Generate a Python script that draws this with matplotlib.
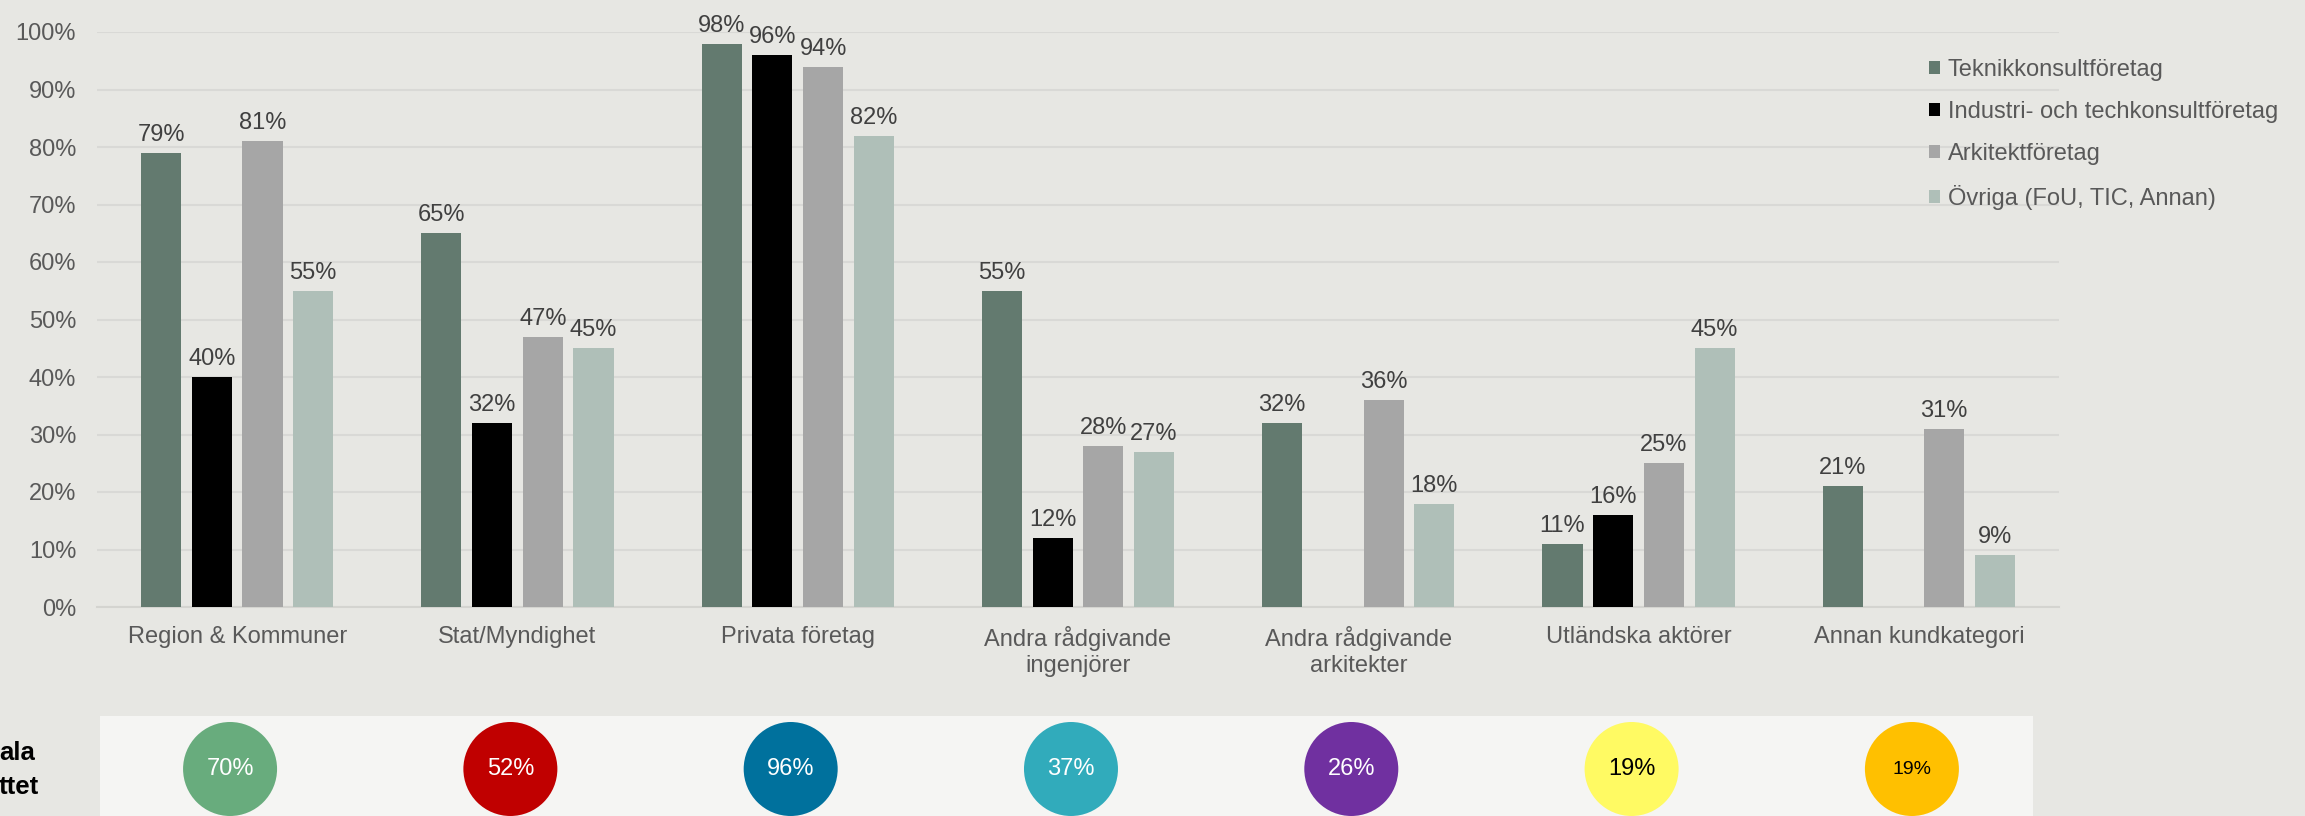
import matplotlib.pyplot as plt
import numpy as np
from matplotlib.patches import Patch

plt.rcParams['font.family'] = ['Liberation Sans', 'DejaVu Sans']

# data
categories = ["Region & Kommuner", "Stat/Myndighet", "Privata företag",
              "Andra rådgivande\ningenjörer", "Andra rådgivande\narkitekter",
              "Utländska aktörer", "Annan kundkategori"]
series_names = ["Teknikkonsultföretag", "Industri- och techkonsultföretag",
                "Arkitektföretag", "Övriga (FoU, TIC, Annan)"]
teknik = [79, 65, 98, 55, 32, 11, 21]
industri = [40, 32, 96, 12, None, 16, None]
arkitekt = [81, 47, 94, 28, 36, 25, 31]
ovriga = [55, 45, 82, 27, 18, 45, 9]
totals = [70, 52, 96, 37, 26, 19, 19]

bar_colors = ["#637A6F", "#000000", "#A6A6A6", "#AFBFB8"]
circle_colors = ["#68AC7D", "#C00000", "#00719D", "#31ABBB", "#7030A0", "#FFFA63", "#FFC000"]
circle_text_colors = ["white", "white", "white", "white", "white", "black", "black"]
circle_text_sizes = [17, 17, 17, 17, 17, 17, 14]

bg = "#E7E7E3"
W, H = 2305, 816

fig = plt.figure(figsize=(W / 100, H / 100), dpi=100, facecolor=bg)
ax = fig.add_axes([97 / W, 1 - 607 / H, (2059 - 97) / W, (607 - 32) / H])
ax.set_facecolor(bg)

x = np.arange(len(categories))
pitch = 0.181
width = 0.143
all_series = [teknik, industri, arkitekt, ovriga]
for k, vals in enumerate(all_series):
    heights = [v if v is not None else 0 for v in vals]
    bars = ax.bar(x + (k - 1.5) * pitch, heights, width, color=bar_colors[k],
                  label=series_names[k], zorder=3)
    labels = ["{}%".format(v) if v is not None else "" for v in vals]
    ax.bar_label(bars, labels=labels, padding=5, fontsize=17, color="#404040")

ax.set_xlim(-0.5, len(categories) - 0.5)
ax.set_ylim(0, 100)
ax.set_yticks(np.arange(0, 101, 10))
ax.set_yticklabels(["{}%".format(t) for t in range(0, 101, 10)])
ax.set_xticks(x)
ax.set_xticklabels(categories, linespacing=1.2)
ax.tick_params(axis="y", length=0, pad=15, labelsize=17, labelcolor="#595959")
ax.tick_params(axis="x", length=0, pad=14, labelsize=17, labelcolor="#595959")
ax.grid(axis="y", color="#D9D9D6", linewidth=1.5, zorder=0)
for s in ["top", "right", "left"]:
    ax.spines[s].set_visible(False)
ax.spines["bottom"].set_color("#D4D4D0")
ax.spines["bottom"].set_linewidth(1.5)

handles = [Patch(facecolor=c, edgecolor="none") for c in bar_colors]
fig.legend(handles, series_names, loc="upper left", bbox_to_anchor=(0.8275, 0.954),
           frameon=False, fontsize=17, labelcolor="#595959",
           handlelength=0.5, handleheight=0.5, handletextpad=0.3, labelspacing=0.85)

# bottom panel with circles
pan = fig.add_axes([100 / W, 0, (2033 - 100) / W, 100 / H])
pan.set_facecolor("#F5F5F3")
pan.set_xlim(-0.489, 6.407)
pan.set_ylim(0, 100)
for s in pan.spines.values():
    s.set_visible(False)
pan.set_xticks([])
pan.set_yticks([])
cx = x - 0.025
pan.scatter(cx, [47] * len(cx), s=(94 * 0.72) ** 2, c=circle_colors, edgecolors="none", zorder=3)
for i, t in enumerate(totals):
    pan.text(cx[i], 47, "{}%".format(t), ha="center", va="center",
             fontsize=circle_text_sizes[i], color=circle_text_colors[i], zorder=4)

fig.text(35 / W, 1 - 760 / H, "ala", ha="right", va="baseline",
         fontsize=18.5, fontweight="bold", color="black")
fig.text(39 / W, 1 - 794 / H, "ttet", ha="right", va="baseline",
         fontsize=18.5, fontweight="bold", color="black")

fig.savefig("out.png", dpi=100, facecolor=bg)
